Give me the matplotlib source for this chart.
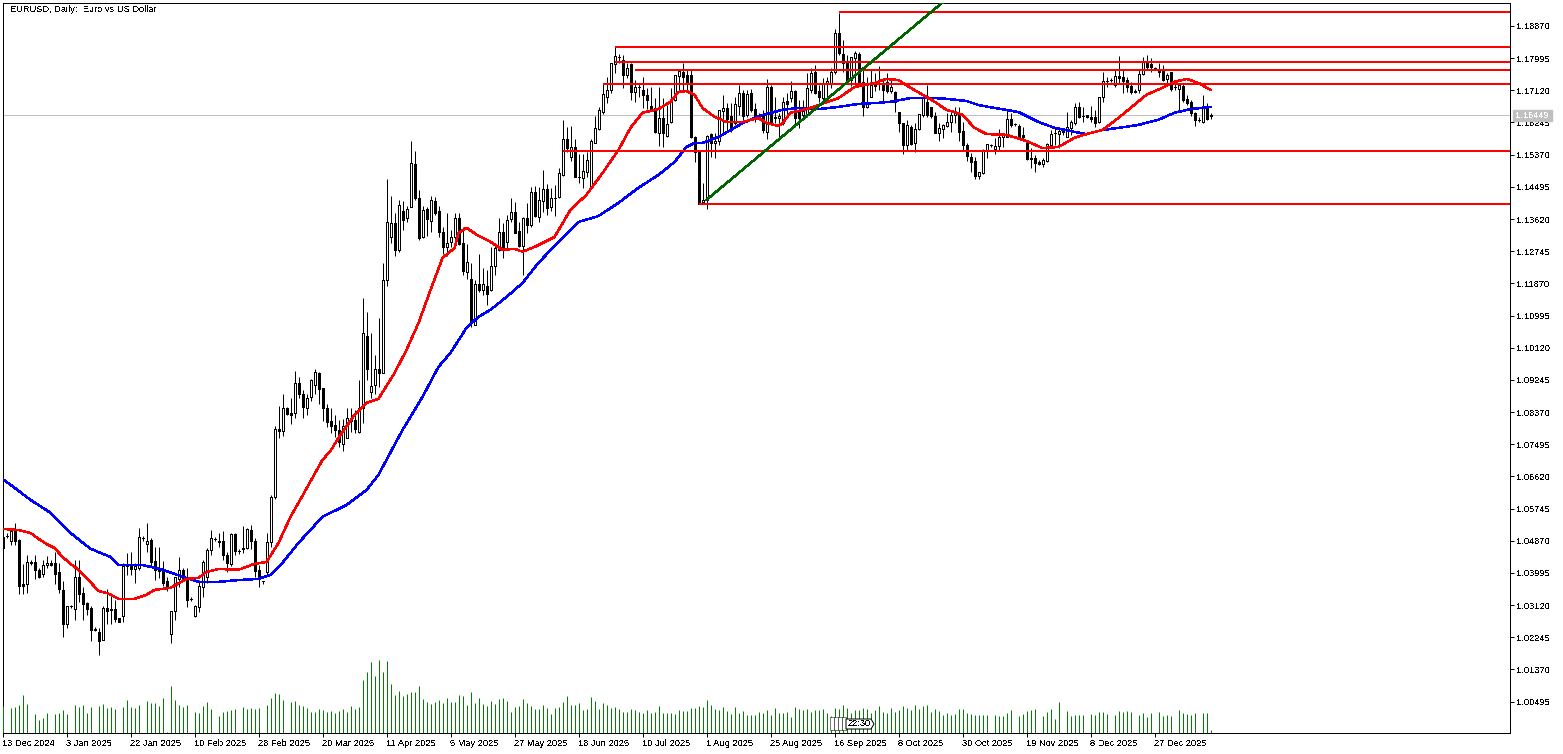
import numpy as np
from matplotlib import pyplot as plt
from matplotlib.patches import Polygon, Rectangle

# prices are in points (1.0498 -> 10498)
open_pts = [
    10498,10501,10485,10512,10489,10369,10368,10428,10429,10408,
    10397,10420,10426,10427,10402,10353,10261,10308,10301,10388,
    10344,10318,10304,10246,10239,10217,10304,10301,10301,10276,
    10281,10417,10421,10411,10412,10494,10479,10489,10432,10410,
    10409,10376,10232,10295,10384,10406,10380,10329,10283,10306,
    10362,10389,10462,10492,10486,10487,10448,10424,10504,10459,
    10465,10466,10516,10487,10408,10378,10403,10483,10606,10792,
    10786,10847,10833,10833,10917,10887,10848,10878,10910,10942,
    10901,10847,10812,10801,10789,10751,10765,10819,10815,10783,
    10847,11043,10892,10910,10953,10944,11196,11314,11350,11277,
    11383,11364,11394,11511,11418,11312,11389,11357,11411,11383,
    11327,11287,11300,11312,11364,11296,11219,11198,11075,11184,
    11169,11181,11169,11235,11279,11326,11300,11362,11382,11329,
    11289,11366,11346,11436,11368,11411,11443,11396,11420,11421,
    11482,11580,11532,11559,11477,11474,11491,11453,11570,11606,
    11652,11695,11713,11784,11802,11795,11754,11784,11707,11720,
    11713,11699,11670,11663,11597,11638,11589,11625,11686,11752,
    11763,11754,11754,11586,11545,11407,11414,11593,11568,11573,
    11657,11663,11642,11622,11670,11704,11644,11704,11660,11645,
    11641,11600,11720,11640,11638,11624,11682,11690,11710,11654,
    11645,11645,11713,11763,11709,11690,11729,11729,11763,11869,
    11811,11786,11740,11799,11811,11736,11666,11695,11736,11731,
    11727,11736,11709,11707,11652,11622,11563,11611,11568,11606,
    11645,11681,11666,11641,11597,11608,11616,11627,11645,11650,
    11602,11563,11532,11521,11480,11486,11550,11563,11552,11561,
    11584,11586,11633,11620,11615,11590,11572,11529,11527,11516,
    11512,11521,11563,11595,11593,11598,11586,11609,11622,11666,
    11643,11645,11639,11639,11627,11693,11738,11740,11727,11751,
    11749,11740,11724,11711,11713,11756,11787,11784,11772,11769,
    11769,11743,11761,11722,11716,11724,11688,11680,11649,11632,
    11627,11665,11642]
close_pts = [
    10466,10500,10512,10487,10365,10365,10428,10427,10406,10388,
    10421,10426,10421,10397,10356,10261,10308,10308,10388,10342,
    10316,10302,10244,10245,10215,10305,10297,10298,10275,10267,
    10419,10419,10411,10417,10496,10493,10487,10429,10407,10405,
    10373,10360,10295,10387,10406,10384,10326,10329,10308,10364,
    10430,10462,10494,10491,10483,10447,10425,10505,10459,10459,
    10468,10519,10487,10405,10384,10378,10483,10606,10792,10786,
    10847,10831,10829,10917,10886,10851,10874,10924,10945,10900,
    10849,10810,10799,10789,10756,10800,10822,10813,10790,10847,
    11051,10955,10908,10953,10944,11196,11355,11350,11277,11399,
    11359,11388,11513,11418,11309,11386,11361,11415,11379,11327,
    11287,11296,11312,11365,11294,11221,11246,11080,11184,11169,
    11184,11158,11235,11282,11326,11282,11359,11380,11325,11289,
    11366,11346,11436,11371,11414,11443,11393,11418,11420,11486,
    11580,11554,11557,11477,11477,11493,11522,11573,11609,11659,
    11701,11713,11785,11805,11802,11754,11772,11707,11722,11720,
    11698,11686,11661,11600,11636,11595,11620,11688,11754,11765,
    11749,11736,11586,11545,11403,11414,11588,11568,11575,11659,
    11663,11634,11612,11674,11704,11643,11701,11659,11641,11636,
    11604,11720,11624,11636,11642,11679,11676,11710,11636,11636,
    11657,11718,11760,11704,11693,11733,11738,11763,11867,11813,
    11786,11740,11802,11813,11736,11666,11677,11727,11724,11729,
    11713,11709,11720,11680,11622,11563,11618,11566,11606,11647,
    11690,11645,11641,11597,11609,11618,11625,11645,11652,11600,
    11563,11534,11516,11480,11489,11551,11565,11563,11561,11584,
    11590,11634,11618,11620,11584,11584,11525,11524,11515,11512,
    11522,11565,11593,11595,11602,11602,11611,11625,11666,11640,
    11643,11639,11635,11624,11693,11738,11738,11740,11751,11746,
    11738,11722,11708,11707,11756,11790,11776,11775,11772,11761,
    11740,11754,11715,11722,11727,11686,11677,11649,11631,11632,
    11663,11634,11645]
high_pts = [
    10521,10507,10521,10534,10491,10424,10448,10435,10448,10412,
    10435,10444,10435,10457,10426,10376,10310,10312,10435,10435,
    10360,10321,10308,10251,10249,10308,10355,10346,10326,10276,
    10426,10453,10457,10426,10521,10500,10534,10494,10471,10471,
    10432,10387,10296,10389,10442,10412,10412,10335,10312,10380,
    10435,10466,10516,10498,10509,10512,10457,10507,10507,10465,
    10527,10521,10530,10494,10421,10378,10507,10612,10799,10853,
    10887,10851,10874,10948,10931,10897,10887,10928,10955,10945,
    10901,10860,10847,10830,10815,10819,10847,10849,10842,10924,
    11146,11108,11051,10992,11094,11241,11472,11424,11377,11413,
    11411,11397,11574,11547,11441,11397,11394,11424,11423,11397,
    11341,11379,11332,11377,11377,11341,11293,11241,11196,11266,
    11228,11223,11287,11288,11364,11352,11373,11418,11407,11355,
    11368,11405,11450,11452,11450,11495,11457,11445,11454,11500,
    11631,11613,11615,11579,11540,11540,11545,11580,11642,11668,
    11731,11749,11787,11829,11811,11808,11785,11785,11740,11731,
    11749,11717,11722,11690,11722,11690,11672,11717,11754,11769,
    11787,11767,11767,11588,11545,11461,11591,11597,11595,11659,
    11699,11677,11677,11695,11727,11713,11713,11715,11677,11650,
    11659,11742,11727,11695,11650,11695,11704,11738,11713,11686,
    11686,11760,11772,11781,11727,11745,11748,11772,11879,11922,
    11849,11808,11802,11820,11817,11772,11749,11768,11758,11779,
    11740,11758,11740,11711,11654,11624,11630,11618,11622,11647,
    11695,11727,11668,11654,11622,11621,11650,11654,11668,11668,
    11627,11568,11541,11532,11491,11553,11566,11566,11581,11607,
    11595,11657,11649,11624,11620,11612,11577,11554,11536,11522,
    11527,11568,11604,11611,11613,11609,11654,11630,11677,11681,
    11668,11645,11670,11658,11695,11763,11749,11745,11769,11805,
    11769,11749,11736,11715,11769,11804,11808,11799,11776,11785,
    11781,11758,11763,11733,11731,11731,11699,11686,11654,11639,
    11699,11677,11651]
low_pts = [
    10466,10494,10474,10476,10342,10342,10344,10421,10383,10385,
    10388,10412,10419,10369,10344,10224,10249,10303,10271,10320,
    10271,10285,10213,10240,10176,10217,10261,10261,10267,10267,
    10267,10394,10394,10371,10408,10487,10456,10417,10380,10385,
    10364,10349,10210,10271,10362,10376,10306,10323,10279,10294,
    10335,10371,10448,10487,10471,10435,10403,10418,10448,10451,
    10453,10464,10464,10388,10360,10369,10391,10471,10600,10765,
    10772,10828,10804,10821,10876,10821,10828,10867,10887,10858,
    10813,10797,10780,10770,10742,10731,10765,10783,10779,10780,
    10806,10924,10876,10887,10906,10942,11180,11296,11261,11273,
    11332,11355,11394,11413,11305,11311,11316,11327,11373,11314,
    11267,11261,11287,11296,11291,11209,11198,11069,11073,11164,
    11155,11128,11167,11210,11276,11255,11278,11355,11323,11285,
    11210,11323,11341,11368,11355,11382,11373,11385,11371,11418,
    11479,11545,11521,11475,11461,11445,11475,11450,11568,11604,
    11648,11677,11706,11760,11787,11717,11745,11686,11681,11695,
    11663,11661,11658,11595,11561,11557,11584,11622,11684,11713,
    11708,11713,11581,11516,11403,11403,11389,11532,11527,11563,
    11600,11604,11600,11618,11645,11631,11640,11654,11627,11631,
    11597,11580,11622,11622,11579,11618,11641,11681,11613,11609,
    11636,11640,11704,11702,11681,11677,11686,11718,11757,11808,
    11763,11736,11724,11731,11731,11643,11663,11693,11709,11713,
    11681,11706,11704,11654,11600,11539,11550,11563,11543,11604,
    11639,11639,11636,11595,11575,11583,11613,11600,11622,11573,
    11550,11521,11491,11470,11470,11484,11529,11559,11539,11550,
    11559,11584,11611,11615,11581,11580,11522,11500,11491,11509,
    11504,11518,11554,11563,11554,11590,11584,11590,11618,11636,
    11627,11636,11627,11613,11622,11681,11722,11736,11722,11731,
    11704,11708,11701,11706,11706,11754,11769,11763,11767,11749,
    11738,11727,11711,11713,11654,11681,11672,11642,11616,11625,
    11622,11631,11635]
# tick volume, relative scale
volume = [
    80,0,75,79,85,115,88,0,58,40,
    46,61,0,58,61,70,58,0,85,79,
    85,61,79,0,82,88,76,79,73,0,
    79,100,79,76,85,0,97,91,91,82,
    106,4,142,100,85,79,85,0,64,61,
    82,94,73,0,52,64,67,70,73,0,
    79,73,76,73,76,0,85,106,121,118,
    100,0,94,97,85,82,76,64,64,73,
    70,64,67,61,67,73,64,82,73,79,
    160,184,214,172,220,184,217,148,115,127,
    112,118,124,124,142,103,94,88,94,100,
    91,106,94,94,115,112,85,124,91,106,
    88,82,97,88,103,106,97,64,79,82,
    103,91,82,73,73,85,76,58,76,79,
    94,112,85,85,91,70,73,109,97,73,
    91,85,76,79,73,64,64,73,70,64,
    61,70,61,64,82,61,61,61,58,70,
    67,67,76,76,82,79,100,85,73,70,
    79,67,58,79,61,67,55,55,55,64,
    61,70,55,76,61,61,64,49,79,73,
    70,73,64,70,70,73,61,52,76,73,
    85,76,61,70,70,76,73,61,70,82,
    64,61,76,64,70,82,76,70,85,73,
    82,85,64,73,67,55,61,55,58,73,
    73,61,58,55,55,55,55,0,55,52,
    52,61,70,0,52,58,67,70,73,0,
    52,64,73,43,94,0,67,52,55,55,
    55,0,58,55,64,64,58,0,55,67,
    64,67,64,0,55,61,49,61,0,64,
    52,55,52,0,70,61,58,55,61,0,
    61,61,10]

# moving averages, read at these bars
red_bars = [0,4,7,9,11,13,15,17,19,21,24,26,29,33,36,38,42,46,49,51,54,59,63,66,69,72,74,80,82,84,88,91,94,98,101,104,107,110,113,114,116,119,122,125,128,130,133,138,142,146,150,154,157,160,164,167,169,171,173,175,178,181,185,189,191,194,195,197,201,204,209,213,218,221,224,227,231,233,236,238,240,243,246,251,256,260,264,268,271,275,279,282,286,290,293,296,299,302]
red_ma = [10519,10516,10508,10492,10478,10467,10443,10424,10408,10386,10350,10345,10329,10329,10340,10353,10359,10383,10386,10402,10410,10408,10424,10429,10481,10552,10590,10707,10731,10767,10829,10862,10873,10943,11006,11079,11169,11256,11283,11324,11338,11316,11300,11278,11281,11273,11286,11313,11387,11428,11487,11550,11610,11651,11661,11681,11708,11710,11700,11664,11640,11626,11626,11637,11623,11615,11623,11651,11661,11672,11691,11721,11732,11743,11740,11719,11694,11681,11659,11653,11645,11610,11593,11591,11574,11555,11558,11583,11593,11604,11637,11664,11700,11719,11735,11743,11732,11713]
blue_bars = [0,3,7,12,17,22,27,29,35,40,45,49,54,59,64,67,70,74,80,86,91,94,96,100,105,109,112,116,119,122,126,130,134,140,144,149,154,159,164,168,171,173,175,179,183,185,190,195,199,204,209,214,219,222,227,233,236,241,244,248,254,259,263,268,271,275,281,284,289,293,297,302]
blue_ma = [10655,10631,10598,10563,10508,10465,10443,10421,10421,10408,10389,10375,10375,10380,10383,10394,10427,10481,10552,10584,10625,10666,10707,10788,10878,10960,10998,11066,11096,11115,11150,11188,11243,11311,11354,11370,11406,11447,11482,11517,11558,11569,11569,11585,11610,11623,11645,11659,11664,11661,11667,11675,11678,11681,11691,11691,11689,11683,11672,11664,11653,11626,11610,11599,11593,11604,11613,11618,11632,11651,11661,11667]

# drawn objects: horizontal levels start at a bar and run to the right edge
level_bars = [209,153,153,158,150,140,174]
level_pts = [11924,11831,11790,11766,11729,11548,11403]
trend_bars = [176,235]
trend_pts = [11414,11951]
bid_price = 1.16449

date_labels = ['13 Dec 2024','3 Jan 2025','22 Jan 2025','10 Feb 2025','28 Feb 2025','20 Mar 2025','11 Apr 2025',
               '5 May 2025','27 May 2025','18 Jun 2025','10 Jul 2025','1 Aug 2025','25 Aug 2025','16 Sep 2025',
               '8 Oct 2025','30 Oct 2025','19 Nov 2025','8 Dec 2025','27 Dec 2025']
price_ticks = [1.18870,1.17995,1.17120,1.16245,1.15370,1.14495,1.13620,1.12745,1.11870,1.10995,1.10120,
               1.09245,1.08370,1.07495,1.06620,1.05745,1.04870,1.03995,1.03120,1.02245,1.01370,1.00495]

W, H = 1563, 754
px = 0.72  # one pixel in points at dpi 100
plt.rcParams['font.family'] = ['Liberation Sans', 'DejaVu Sans']
plt.rcParams['text.antialiased'] = False
fig = plt.figure(figsize=(W / 100, H / 100), dpi=100)
ax = fig.add_axes([2.5 / W, 1 - 733 / H, 1507.5 / W, 730.5 / H])

o = np.array(open_pts) / 10000
c = np.array(close_pts) / 10000
hi = np.array(high_pts) / 10000
lo = np.array(low_pts) / 10000
bars = np.arange(len(o))

ax.axhline(bid_price, color='#c0c0c0', lw=px, zorder=1)

ax.vlines(bars, lo, hi, color='black', lw=px, zorder=2, snap=True)
colors = ['white' if cl >= op else 'black' for op, cl in zip(o, c)]
ax.bar(bars, c - o, bottom=o, width=0.5, color=colors, edgecolor='black', linewidth=px, zorder=3, antialiased=False)

ax.plot(blue_bars, np.array(blue_ma) / 10000, color='#0000ff', lw=1.5 * px, zorder=4, antialiased=False)
ax.plot(red_bars, np.array(red_ma) / 10000, color='#ff0000', lw=1.5 * px, zorder=5, antialiased=False)

xmax = 1507.5 / 4
for b, p in zip(level_bars, level_pts):
    ax.hlines(p / 10000, b, xmax, color='#ff0000', lw=2 * px, zorder=6, antialiased=False)
ax.plot(trend_bars, np.array(trend_pts) / 10000, color='#006400', lw=1.5 * px, zorder=6, antialiased=False)

ax.set_xlim(0, xmax)
ax.set_ylim(0.99639, 1.19509)
ax.set_xticks(np.arange(len(date_labels)) * 16)
ax.set_xticklabels(date_labels, ha='left', fontsize=6.7)
ax.yaxis.tick_right()
ax.set_yticks(price_ticks)
ax.set_yticklabels(['%.5f' % t for t in price_ticks], fontsize=6.7)
ax.tick_params(axis='x', length=4 * px, width=px, pad=1.5)
ax.tick_params(axis='y', length=4 * px, width=px, pad=1.5)
for s in ax.spines.values():
    s.set_linewidth(px)

# volume sits on its own scale at the bottom
ax2 = fig.add_axes(ax.get_position(), sharex=ax)
ax2.patch.set_visible(False)
ax2.vlines(bars, 0, volume, color='#008000', lw=px, snap=True)
ax2.set_ylim(0, 730.5 * 3)
ax2.axis('off')

ax.text(7 / 1507.5, 1 - 6.5 / 730.5, 'EURUSD, Daily:  Euro vs US Dollar', transform=ax.transAxes,
        fontsize=6.7, va='center', ha='left')

# bid label on the price scale
fig.add_artist(Rectangle((1513 / W, 1 - 121 / H), 39 / W, 11 / H, transform=fig.transFigure, color='#c0c0c0', zorder=8))
fig.text(1532.5 / W, 1 - 115.5 / H, '%.5f' % bid_price, color='white', fontsize=6.7, ha='center', va='center', zorder=9)

# time tags on the volume strip
for x in [830, 834, 838, 842]:
    fig.add_artist(Rectangle((x / W, 1 - 730 / H), 4 / W, 13 / H, transform=fig.transFigure,
                             facecolor='white', edgecolor='black', lw=px, ls=(0, (1, 1)), zorder=8))
tag = [(846, 719), (871, 719), (874, 724), (871, 729), (846, 729)]
fig.add_artist(Polygon([(x / W, 1 - y / H) for x, y in tag], closed=True, transform=fig.transFigure,
                       facecolor='white', edgecolor='black', lw=px, zorder=9))
fig.text(859 / W, 1 - 724 / H, '22:30', fontsize=6.7, ha='center', va='center', zorder=10)

fig.savefig('out.png', dpi=100)
